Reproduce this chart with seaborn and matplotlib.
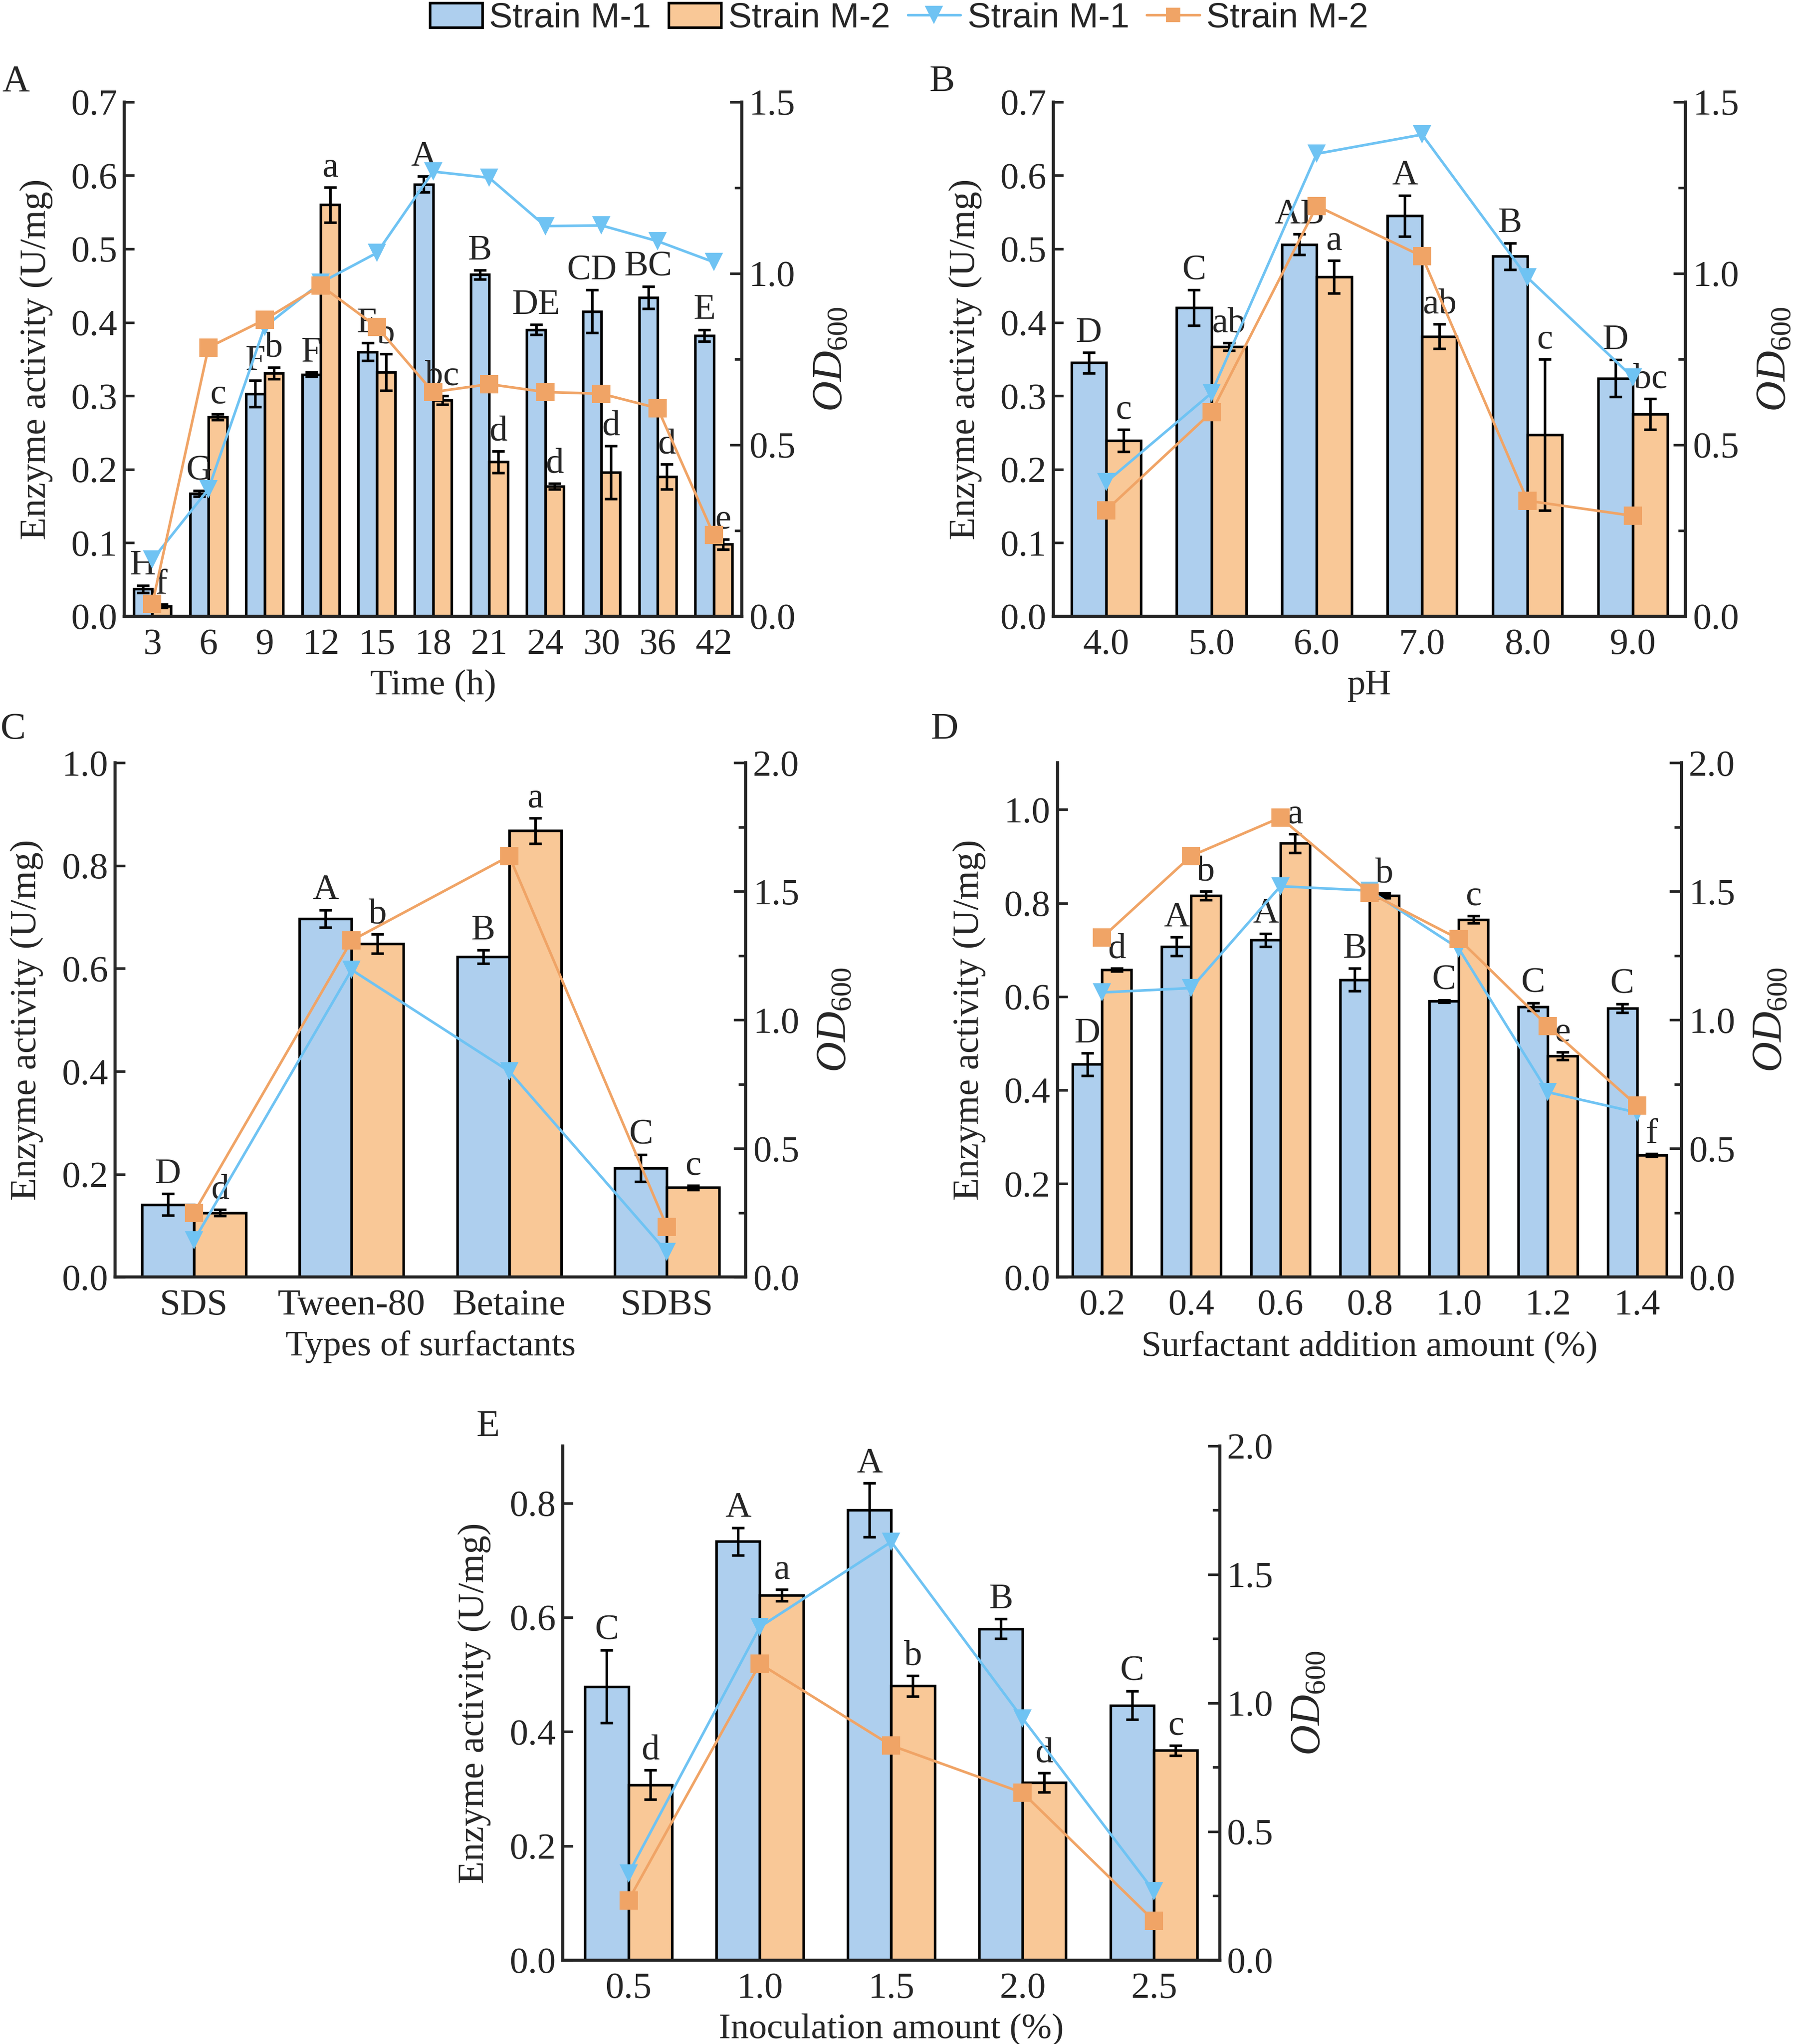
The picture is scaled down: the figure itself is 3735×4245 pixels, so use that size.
import numpy as np
import pandas as pd
import matplotlib
matplotlib.use('Agg')
import matplotlib.pyplot as plt
import seaborn as sns
from matplotlib.patches import Patch
from matplotlib.lines import Line2D
from matplotlib.ticker import MultipleLocator, FormatStrFormatter

# colours
bar_blue = '#AECFEE'
bar_orange = '#F9C897'
line_blue = '#6FC3F3'
line_orange = '#F0A466'

strains = ['Strain M-1', 'Strain M-2']

# panel A - time
time_h = ['3', '6', '9', '12', '15', '18', '21', '24', '30', '36', '42']
a_m1 = [0.037, 0.167, 0.303, 0.329, 0.360, 0.588, 0.465, 0.390, 0.415, 0.434, 0.382]
a_m1_err = [0.005, 0.004, 0.018, 0.003, 0.012, 0.011, 0.006, 0.007, 0.029, 0.015, 0.008]
a_m2 = [0.014, 0.271, 0.331, 0.560, 0.332, 0.294, 0.210, 0.177, 0.196, 0.190, 0.098]
a_m2_err = [0.002, 0.004, 0.008, 0.024, 0.025, 0.006, 0.015, 0.004, 0.036, 0.017, 0.007]
a_let1 = ['H', 'G', 'F', 'F', 'E', 'A', 'B', 'DE', 'CD', 'BC', 'E']
a_let2 = ['f', 'c', 'b', 'a', 'b', 'bc', 'd', 'd', 'd', 'd', 'e']
a_od1 = [0.165, 0.371, 0.844, 0.973, 1.060, 1.297, 1.279, 1.138, 1.140, 1.094, 1.033]
a_od2 = [0.036, 0.784, 0.865, 0.965, 0.844, 0.654, 0.677, 0.654, 0.649, 0.607, 0.237]

# panel B - pH
ph = ['4.0', '5.0', '6.0', '7.0', '8.0', '9.0']
b_m1 = [0.345, 0.420, 0.506, 0.545, 0.490, 0.324]
b_m1_err = [0.014, 0.024, 0.014, 0.028, 0.018, 0.025]
b_m2 = [0.239, 0.367, 0.462, 0.381, 0.247, 0.275]
b_m2_err = [0.015, 0.005, 0.022, 0.017, 0.103, 0.021]
b_let1 = ['D', 'C', 'AB', 'A', 'B', 'D']
b_let2 = ['c', 'ab', 'a', 'ab', 'c', 'bc']
b_od1 = [0.391, 0.651, 1.349, 1.405, 0.988, 0.697]
b_od2 = [0.309, 0.595, 1.197, 1.050, 0.337, 0.293]

# panel C - surfactant type
surf = ['SDS', 'Tween-80', 'Betaine', 'SDBS']
c_m1 = [0.141, 0.697, 0.623, 0.212]
c_m1_err = [0.021, 0.017, 0.013, 0.026]
c_m2 = [0.125, 0.648, 0.868, 0.174]
c_m2_err = [0.006, 0.019, 0.025, 0.004]
c_let1 = ['D', 'A', 'B', 'C']
c_let2 = ['d', 'b', 'a', 'c']
c_od1 = [0.142, 1.195, 0.800, 0.097]
c_od2 = [0.250, 1.309, 1.637, 0.195]

# panel D - surfactant amount
surf_amt = ['0.2', '0.4', '0.6', '0.8', '1.0', '1.2', '1.4']
d_m1 = [0.455, 0.707, 0.721, 0.636, 0.590, 0.578, 0.575]
d_m1_err = [0.024, 0.020, 0.014, 0.024, 0.003, 0.008, 0.009]
d_m2 = [0.657, 0.816, 0.928, 0.816, 0.765, 0.473, 0.261]
d_m2_err = [0.003, 0.009, 0.020, 0.005, 0.008, 0.008, 0.003]
d_let1 = ['D', 'A', 'A', 'B', 'C', 'C', 'C']
d_let2 = ['d', 'b', 'a', 'b', 'c', 'e', 'f']
d_od1 = [1.107, 1.124, 1.520, 1.503, 1.278, 0.719, 0.640]
d_od2 = [1.320, 1.638, 1.787, 1.494, 1.315, 0.976, 0.667]

# panel E - inoculation amount
inoc = ['0.5', '1.0', '1.5', '2.0', '2.5']
e_m1 = [0.479, 0.733, 0.788, 0.580, 0.446]
e_m1_err = [0.064, 0.024, 0.047, 0.017, 0.025]
e_m2 = [0.307, 0.639, 0.480, 0.311, 0.367]
e_m2_err = [0.026, 0.010, 0.018, 0.017, 0.009]
e_let1 = ['C', 'A', 'A', 'B', 'C']
e_let2 = ['d', 'a', 'b', 'd', 'c']
e_od1 = [0.337, 1.296, 1.627, 0.940, 0.268]
e_od2 = [0.233, 1.153, 0.835, 0.651, 0.153]

sns.set_style('ticks')
plt.rcParams['font.family'] = 'serif'
plt.rcParams['font.serif'] = ['Liberation Serif', 'DejaVu Serif']
plt.rcParams['mathtext.fontset'] = 'custom'
plt.rcParams['mathtext.rm'] = 'Liberation Serif'
plt.rcParams['mathtext.it'] = 'Liberation Serif:italic'
plt.rcParams['axes.linewidth'] = 1.5

FS = 18


def panel(ax, cats, m1, m1_err, m2, m2_err, let1, let2, od1, od2,
          ymax, ytop, ystep, odmax, xlabel):
    n = len(cats)
    df = pd.DataFrame({'cat': cats * 2, 'val': m1 + m2,
                       'strain': [strains[0]] * n + [strains[1]] * n})
    sns.barplot(data=df, x='cat', y='val', hue='strain', order=cats,
                hue_order=strains, palette=[bar_blue, bar_orange],
                saturation=1, width=0.66, edgecolor='black', linewidth=1.3,
                errorbar=None, legend=False, ax=ax)
    pad = ymax * 0.006
    for cont, errs, lets in zip(ax.containers, [m1_err, m2_err], [let1, let2]):
        for bar, e, t in zip(cont, errs, lets):
            cx = bar.get_x() + bar.get_width() / 2
            h = bar.get_height()
            ax.errorbar(cx, h, yerr=e, fmt='none', ecolor='black',
                        elinewidth=1.3, capsize=3.2, capthick=1.3)
            ax.text(cx, h + e + pad, t, ha='center', va='bottom', fontsize=FS)
    ax.set_ylim(0, ymax)
    ax.set_yticks(np.arange(0, ytop + 1e-9, ystep))
    ax.yaxis.set_major_formatter(FormatStrFormatter('%.1f'))
    ax.set_xlim(-0.5, n - 0.5)
    ax.set_ylabel('Enzyme activity (U/mg)', fontsize=FS + 0.5, labelpad=9)
    ax.set_xlabel(xlabel, fontsize=FS, labelpad=4)
    ax.tick_params(axis='y', direction='in', length=5, width=1.3, labelsize=FS + 0.5)
    ax.tick_params(axis='x', length=0, labelsize=FS + 0.5, pad=6)

    ax2 = ax.twinx()
    dl = pd.DataFrame({'cat': cats * 2, 'od': od1 + od2,
                       'strain': [strains[0]] * n + [strains[1]] * n})
    sns.pointplot(data=dl, x='cat', y='od', hue='strain', order=cats,
                  hue_order=strains, palette=[line_blue, line_orange],
                  markers=['v', 's'], linestyles=['-', '-'], errorbar=None,
                  legend=False, ax=ax2, markersize=9, linewidth=1.3,
                  markeredgewidth=0)
    ax2.set_ylim(0, odmax)
    ax2.yaxis.set_major_locator(MultipleLocator(0.5))
    ax2.yaxis.set_minor_locator(MultipleLocator(0.25))
    ax2.yaxis.set_major_formatter(FormatStrFormatter('%.1f'))
    ax2.set_xlim(-0.5, n - 0.5)
    ax2.set_ylabel(r'$\mathit{OD}_{\mathrm{600}}$', fontsize=FS + 3, labelpad=8)
    ax2.set_xlabel(xlabel, fontsize=FS, labelpad=4)
    ax2.tick_params(axis='y', which='major', direction='in', length=6,
                    width=1.3, labelsize=FS + 0.5)
    ax2.tick_params(axis='y', which='minor', direction='in', length=3.5, width=1.3)
    ax2.tick_params(axis='x', length=0)
    for a in (ax, ax2):
        a.spines['top'].set_visible(False)
    return ax2


fig = plt.figure(figsize=(12.45, 14.15))

axA = fig.add_axes([0.0691, 0.6985, 0.3435, 0.2516])
panel(axA, time_h, a_m1, a_m1_err, a_m2, a_m2_err, a_let1, a_let2,
      a_od1, a_od2, 0.7, 0.7, 0.1, 1.5, 'Time (h)')

axB = fig.add_axes([0.5859, 0.6985, 0.3515, 0.2516])
panel(axB, ph, b_m1, b_m1_err, b_m2, b_m2_err, b_let1, b_let2,
      b_od1, b_od2, 0.7, 0.7, 0.1, 1.5, 'pH')

axC = fig.add_axes([0.0640, 0.3752, 0.3508, 0.2516])
panel(axC, surf, c_m1, c_m1_err, c_m2, c_m2_err, c_let1, c_let2,
      c_od1, c_od2, 1.0, 1.0, 0.2, 2.0, 'Types of surfactants')

axD = fig.add_axes([0.5881, 0.3752, 0.3472, 0.2516])
panel(axD, surf_amt, d_m1, d_m1_err, d_m2, d_m2_err, d_let1, d_let2,
      d_od1, d_od2, 1.1, 1.0, 0.2, 2.0, 'Surfactant addition amount (%)')

axE = fig.add_axes([0.3130, 0.0410, 0.3654, 0.2516])
panel(axE, inoc, e_m1, e_m1_err, e_m2, e_m2_err, e_let1, e_let2,
      e_od1, e_od2, 0.9, 0.8, 0.2, 2.0, 'Inoculation amount (%)')

# panel tags
for tag, x, y in [('A', 0.0087, 0.960), ('B', 0.524, 0.960), ('C', 0.0073, 0.643),
                  ('D', 0.5255, 0.643), ('E', 0.2715, 0.302)]:
    fig.text(x, y, tag, ha='center', va='center', fontsize=FS + 1)

handles = [Patch(facecolor=bar_blue, edgecolor='black', linewidth=1.3),
           Patch(facecolor=bar_orange, edgecolor='black', linewidth=1.3),
           Line2D([], [], color=line_blue, marker='v', markersize=9, lw=1.3, markeredgewidth=0),
           Line2D([], [], color=line_orange, marker='s', markersize=7, lw=1.3, markeredgewidth=0)]
fig.legend(handles, strains + strains, loc='center', bbox_to_anchor=(0.5, 0.991),
           ncol=4, frameon=False, handlelength=1.5, handletextpad=0.2,
           columnspacing=0.5, prop={'family': 'Liberation Sans', 'size': FS - 0.5})

fig.savefig('out.png', dpi=300)
